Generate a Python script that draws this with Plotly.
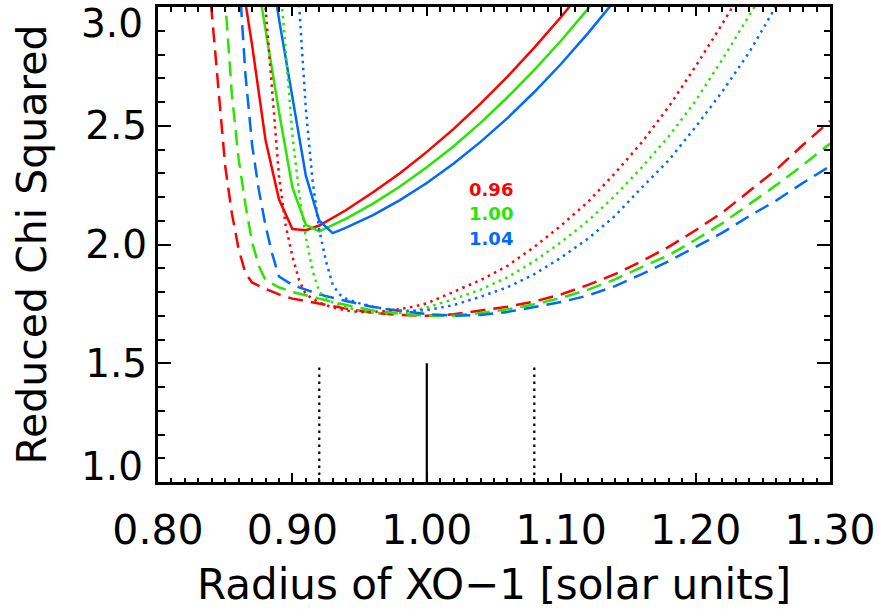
import plotly.graph_objects as go

# ---------------- data ----------------
MASS_LABELS = ["0.96", "1.00", "1.04"]
COLORS = ["rgb(255,0,0)", "rgb(40,230,0)", "rgb(0,105,255)"]

# solid curves
SOLID_096_X = [0.86, 0.87, 0.88, 0.89, 0.90, 0.91, 0.92, 0.94, 0.96, 0.98, 1.00, 1.02, 1.04, 1.06, 1.08, 1.10, 1.12]
SOLID_096_Y = [3.20, 2.84, 2.44, 2.19, 2.065, 2.06, 2.08, 2.145, 2.22, 2.30, 2.39, 2.487, 2.593, 2.707, 2.829, 2.959, 3.097]
SOLID_100_X = [0.87, 0.88, 0.89, 0.90, 0.91, 0.92, 0.94, 0.96, 0.98, 1.00, 1.02, 1.04, 1.06, 1.08, 1.10, 1.12, 1.14]
SOLID_100_Y = [3.25, 2.90, 2.56, 2.24, 2.083, 2.055, 2.109, 2.172, 2.244, 2.325, 2.414, 2.512, 2.62, 2.735, 2.859, 2.993, 3.135]
SOLID_104_X = [0.88, 0.89, 0.90, 0.91, 0.92, 0.93, 0.94, 0.96, 0.98, 1.00, 1.02, 1.04, 1.06, 1.08, 1.10, 1.12, 1.14]
SOLID_104_Y = [3.30, 2.95, 2.62, 2.29, 2.10, 2.048, 2.071, 2.124, 2.187, 2.259, 2.341, 2.432, 2.532, 2.642, 2.761, 2.89, 3.028]

# dashed curves
DASH_096_X = [0.835, 0.84, 0.845, 0.85, 0.855, 0.86, 0.865, 0.87, 0.88, 0.89, 0.90, 0.92, 0.94, 0.96, 0.98, 1.00,
              1.02, 1.04, 1.06, 1.08, 1.10, 1.12, 1.14, 1.16, 1.18, 1.20, 1.22, 1.24, 1.26, 1.28, 1.30]
DASH_096_Y = [3.30, 2.97, 2.63, 2.33, 2.13, 1.98, 1.88, 1.84, 1.813, 1.79, 1.772, 1.75, 1.73, 1.712, 1.703, 1.70,
              1.706, 1.722, 1.738, 1.76, 1.79, 1.83, 1.875, 1.93, 1.99, 2.06, 2.135, 2.225, 2.315, 2.42, 2.52]
DASH_100_X = [0.845, 0.85, 0.855, 0.86, 0.865, 0.87, 0.875, 0.88, 0.89, 0.90, 0.92, 0.94, 0.96, 0.98, 1.00,
              1.02, 1.04, 1.06, 1.08, 1.10, 1.12, 1.14, 1.16, 1.18, 1.20, 1.22, 1.24, 1.26, 1.28, 1.30]
DASH_100_Y = [3.35, 3.03, 2.63, 2.36, 2.17, 2.01, 1.91, 1.85, 1.82, 1.80, 1.772, 1.745, 1.722, 1.708, 1.70,
              1.70, 1.712, 1.727, 1.748, 1.775, 1.81, 1.853, 1.905, 1.955, 2.02, 2.09, 2.17, 2.25, 2.335, 2.425]
DASH_104_X = [0.855, 0.86, 0.865, 0.87, 0.875, 0.88, 0.885, 0.89, 0.90, 0.91, 0.92, 0.94, 0.96, 0.98, 1.00,
              1.02, 1.04, 1.06, 1.08, 1.10, 1.12, 1.14, 1.16, 1.18, 1.20, 1.22, 1.24, 1.26, 1.28, 1.30]
DASH_104_Y = [3.60, 3.15, 2.72, 2.42, 2.23, 2.08, 1.96, 1.865, 1.83, 1.81, 1.79, 1.762, 1.737, 1.72, 1.707,
              1.70, 1.703, 1.716, 1.737, 1.758, 1.785, 1.825, 1.875, 1.93, 1.99, 2.05, 2.12, 2.185, 2.26, 2.33]

# dotted curves
DOT_096_X = [0.875, 0.88, 0.885, 0.89, 0.895, 0.90, 0.905, 0.91, 0.92, 0.93, 0.94, 0.95, 0.96, 0.97, 0.98, 0.99,
             1.00, 1.02, 1.04, 1.06, 1.08, 1.10, 1.12, 1.14, 1.16, 1.18, 1.20, 1.22, 1.24]
DOT_096_Y = [3.35, 3.00, 2.66, 2.29, 2.08, 1.95, 1.85, 1.79, 1.755, 1.735, 1.722, 1.716, 1.716, 1.72, 1.728, 1.738,
             1.752, 1.80, 1.85, 1.91, 1.99, 2.08, 2.18, 2.30, 2.43, 2.58, 2.75, 2.93, 3.12]
DOT_100_X = [0.885, 0.89, 0.895, 0.90, 0.905, 0.91, 0.915, 0.92, 0.93, 0.94, 0.95, 0.96, 0.97, 0.98, 0.99,
             1.00, 1.02, 1.04, 1.06, 1.08, 1.10, 1.12, 1.14, 1.16, 1.18, 1.20, 1.22, 1.24, 1.26]
DOT_100_Y = [3.55, 3.15, 2.82, 2.46, 2.22, 2.03, 1.89, 1.80, 1.755, 1.735, 1.72, 1.712, 1.71, 1.712, 1.72,
             1.735, 1.77, 1.81, 1.862, 1.93, 2.01, 2.10, 2.205, 2.325, 2.455, 2.605, 2.78, 2.96, 3.15]
DOT_104_X = [0.90, 0.905, 0.91, 0.915, 0.92, 0.925, 0.93, 0.935, 0.94, 0.95, 0.96, 0.97, 0.98, 0.99,
             1.00, 1.02, 1.04, 1.06, 1.08, 1.10, 1.12, 1.14, 1.16, 1.18, 1.20, 1.22, 1.24, 1.26, 1.27]
DOT_104_Y = [3.45, 3.00, 2.57, 2.27, 2.06, 1.93, 1.83, 1.79, 1.772, 1.752, 1.738, 1.728, 1.722, 1.72,
             1.724, 1.745, 1.78, 1.82, 1.875, 1.945, 2.025, 2.12, 2.24, 2.355, 2.495, 2.645, 2.81, 3.005, 3.10]

# vertical reference lines (best radius and its error bounds)
VLINE_X = [0.92, 1.00, 1.08]
VLINE_STYLE = ["dot", "solid", "dot"]
VLINE_BOTTOM = 1.0
VLINE_TOP = 1.5

X_TICK0, X_DTICK, X_MINOR = 0.8, 0.1, 0.01
Y_TICK0, Y_DTICK, Y_MINOR = 1.0, 0.5, 0.1
# the end labels of the y axis sit inside the frame in the reference
Y_END_LABELS = [(1.0, "1.0", "bottom", -8), (3.0, "3.0", "top", 7)]

# ---------------- figure ----------------
DASH_PAT = "15px,8px"
DOT_PAT = "2.5px,4.5px"
FONT = "DejaVu Sans"

fig = go.Figure()

groups = [
    ([SOLID_096_X, SOLID_100_X, SOLID_104_X], [SOLID_096_Y, SOLID_100_Y, SOLID_104_Y], "solid"),
    ([DASH_096_X, DASH_100_X, DASH_104_X], [DASH_096_Y, DASH_100_Y, DASH_104_Y], DASH_PAT),
    ([DOT_096_X, DOT_100_X, DOT_104_X], [DOT_096_Y, DOT_100_Y, DOT_104_Y], DOT_PAT),
]
for xs, ys, dash in groups:
    for x, y, c in zip(xs, ys, COLORS):
        fig.add_trace(go.Scatter(x=x, y=y, mode="lines",
                                 line=dict(color=c, width=2.5, dash=dash),
                                 hoverinfo="skip"))

for vx, st in zip(VLINE_X, VLINE_STYLE):
    fig.add_trace(go.Scatter(x=[vx, vx], y=[VLINE_BOTTOM, VLINE_TOP], mode="lines",
                             line=dict(color="black", width=2.2,
                                       dash="solid" if st == "solid" else "2.5px,4.5px"),
                             hoverinfo="skip"))

LABEL_Y = [2.232, 2.129, 2.024]
for lab, c, ly in zip(MASS_LABELS, COLORS, LABEL_Y):
    fig.add_annotation(x=1.048, y=ly, text=lab, showarrow=False,
                       font=dict(family=FONT, size=18, color=c, weight="bold"))

for yv, txt, anchor, ysh in Y_END_LABELS:
    fig.add_annotation(xref="paper", x=0, yref="y", y=yv, text=txt, showarrow=False,
                       xanchor="right", yanchor=anchor, xshift=-14, yshift=ysh, borderpad=0,
                       font=dict(family=FONT, size=39, color="black"))

fig.update_xaxes(range=[0.8, 1.3], tickmode="linear", tick0=X_TICK0, dtick=X_DTICK,
                 tickformat=".2f", ticks="inside", ticklen=9, tickwidth=2, tickcolor="black",
                 showline=True, linewidth=3, linecolor="black", mirror="ticks",
                 showgrid=False, zeroline=False, ticklabelstandoff=10,
                 tickfont=dict(family=FONT, size=41, color="black"),
                 minor=dict(tickmode="linear", tick0=X_TICK0, dtick=X_MINOR, ticklen=4.5,
                            tickwidth=2, ticks="inside", tickcolor="black"),
                 title=dict(text="Radius of XO\u22121 [solar units]",
                            font=dict(family=FONT, size=42, color="black"), standoff=25))
fig.update_yaxes(range=[1.0, 3.0], tickmode="linear", tick0=Y_TICK0, dtick=Y_DTICK,
                 tickformat=".1f", ticks="inside", ticklen=13, tickwidth=2, tickcolor="black",
                 showline=True, linewidth=3, linecolor="black", mirror="ticks",
                 showgrid=False, zeroline=False,
                 labelalias={"1.0": "", "3.0": ""},
                 tickfont=dict(family=FONT, size=39, color="black"),
                 minor=dict(tickmode="linear", tick0=Y_TICK0, dtick=Y_MINOR, ticklen=6.5,
                            tickwidth=2, ticks="inside", tickcolor="black"),
                 title=dict(text="Reduced Chi Squared",
                            font=dict(family=FONT, size=41, color="black"), standoff=26))

fig.update_layout(width=879, height=609, margin=dict(l=158, r=49, t=7, b=127, autoexpand=False),
                  plot_bgcolor="white", paper_bgcolor="white", showlegend=False,
                  font=dict(family=FONT, size=40, color="black"))

fig.write_html("out.html", config={"displayModeBar": False},
               post_script="document.body.style.margin='0px';")
